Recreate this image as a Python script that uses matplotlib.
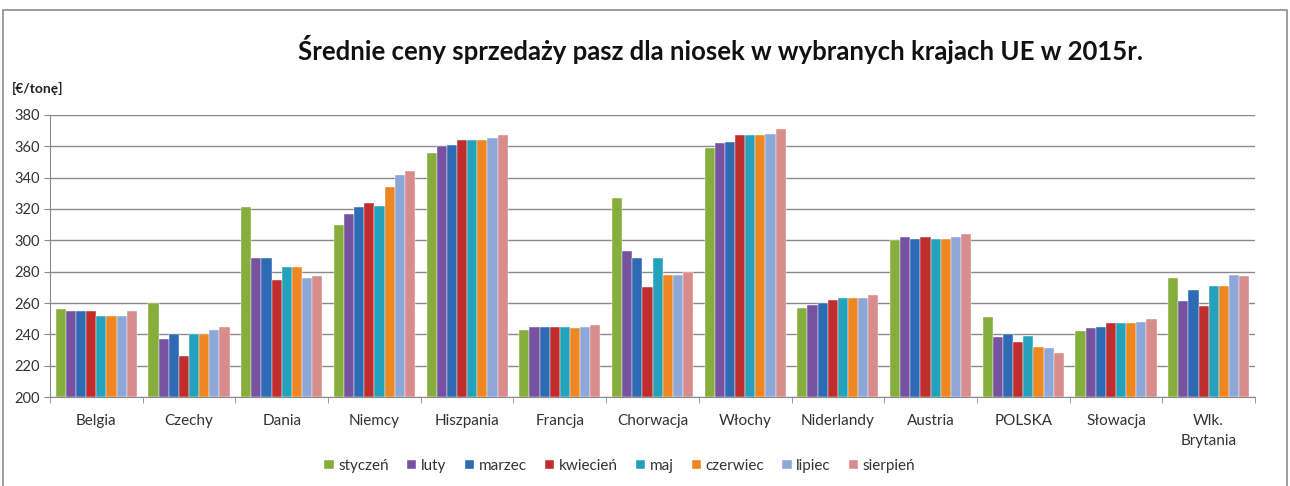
import matplotlib.pyplot as plt
import matplotlib.patches as mpatches
import numpy as np

plt.rcParams['font.family'] = ['Lato', 'DejaVu Sans']

countries = ['Belgia', 'Czechy', 'Dania', 'Niemcy', 'Hiszpania', 'Francja', 'Chorwacja',
             'Włochy', 'Niderlandy', 'Austria', 'POLSKA', 'Słowacja', 'Wlk.\nBrytania']
months = ['styczeń', 'luty', 'marzec', 'kwiecień', 'maj', 'czerwiec', 'lipiec', 'sierpień']
colors = ['#86AE3C', '#7752A0', '#2E6BB4', '#BF2E2C', '#25A2BB', '#EE8622', '#8DA8D8', '#D88C8B']

styczen  = [256, 260, 321, 310, 356, 243, 327, 359, 257, 300, 251, 242, 276]
luty     = [255, 237, 289, 317, 360, 245, 293, 362, 259, 302, 238, 244, 261]
marzec   = [255, 240, 289, 321, 361, 245, 289, 363, 260, 301, 240, 245, 268]
kwiecien = [255, 226, 275, 324, 364, 245, 270, 367, 262, 302, 235, 247, 258]
maj      = [252, 240, 283, 322, 364, 245, 289, 367, 263, 301, 239, 247, 271]
czerwiec = [252, 240, 283, 334, 364, 244, 278, 367, 263, 301, 232, 247, 271]
lipiec   = [252, 243, 276, 342, 365, 245, 278, 368, 263, 302, 231, 248, 278]
sierpien = [255, 245, 277, 344, 367, 246, 280, 371, 265, 304, 228, 250, 277]
series = [styczen, luty, marzec, kwiecien, maj, czerwiec, lipiec, sierpien]

fig = plt.figure(figsize=(12.9, 4.86), dpi=100)
W, H = 1290, 486
ax = fig.add_axes([50 / W, 1 - 397 / H, 1205 / W, 282 / H])

# chart border
fig.patches.append(mpatches.Rectangle((3 / W, -0.05), 1284 / W, 1.05 - 10 / H,
                                      transform=fig.transFigure, fill=False,
                                      edgecolor='#8c8c8c', linewidth=1.2))

x = np.arange(len(countries))
bw = 0.875 / 8
for i, (vals, c) in enumerate(zip(series, colors)):
    ax.bar(x - 0.4375 + bw * (i + 0.5), np.array(vals) - 200, bw, bottom=200,
           color=c, edgecolor='#ffffff', linewidth=0.3, label=months[i], zorder=3)

ax.set_xlim(-0.5, len(countries) - 0.5)
ax.set_ylim(200, 380)
ax.set_yticks(range(200, 381, 20))
ax.yaxis.grid(True, color='#8a8a8a', linewidth=1)
ax.set_axisbelow(True)
ax.set_xticks(x)
ax.set_xticklabels(countries, fontsize=11, color='#333333', linespacing=1.6)
ax.set_xticks(np.arange(-0.5, len(countries), 1), minor=True)
ax.tick_params(axis='x', which='major', length=0, pad=12)
ax.tick_params(axis='x', which='minor', length=4, color='#8a8a8a')
ax.tick_params(axis='y', labelsize=10.5, labelcolor='#333333', length=4, color='#8a8a8a')
for s in ['top', 'right']:
    ax.spines[s].set_visible(False)
for s in ['left', 'bottom']:
    ax.spines[s].set_color('#8a8a8a')

fig.text(720 / W, 1 - 50 / H, 'Średnie ceny sprzedaży pasz dla niosek w wybranych krajach UE w 2015r.',
         ha='center', va='center', fontsize=18.5, fontweight='bold', color='#111111')
fig.text(12 / W, 1 - 88 / H, '[€/tonę]', ha='left', va='center', fontsize=10,
         fontweight='bold', color='#222222')

fig.legend(loc='center', bbox_to_anchor=(620 / W, 1 - 466 / H), ncol=8, frameon=False,
           fontsize=11, handlelength=0.6, handleheight=0.6, handletextpad=0.3,
           columnspacing=1.2, labelcolor='#333333')

fig.savefig('out.png', dpi=100)
